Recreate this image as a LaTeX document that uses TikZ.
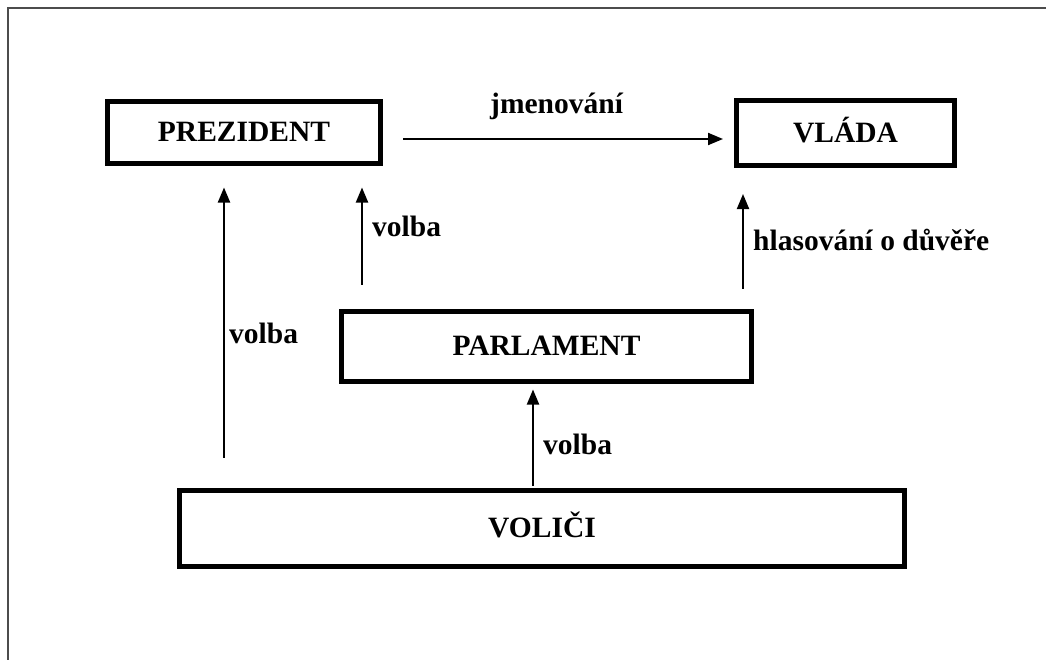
\documentclass[tikz,border=0pt]{standalone}
\usepackage{fontspec}
\setmainfont{Liberation Serif}
\usetikzlibrary{arrows.meta}
\tikzset{
  box/.style={draw=black, line width=5pt, fill=white, rectangle, inner sep=0pt,
    font=\fontsize{29.5}{32}\selectfont\bfseries, text height=19.5pt, text depth=0pt},
  lbl/.style={anchor=base west, inner sep=0pt, font=\fontsize{29.5}{32}\selectfont\bfseries},
  arr/.style={draw=black, line width=2pt, -{Triangle[length=15pt,width=12pt]}},
  frameline/.style={draw=black!70, line width=2pt}
}
\begin{document}
\begin{tikzpicture}[x=1pt,y=-1pt]
\useasboundingbox (0,0) rectangle (1046,659);
\draw[frameline] (8,660) -- (8,8) -- (1047,8);
\node[box, minimum width=273pt, minimum height=62pt] (prez) at (244,132) {PREZIDENT};
\node[box, minimum width=218pt, minimum height=65pt] (vlada) at (845.5,133) {VLÁDA};
\node[box, minimum width=410pt, minimum height=70pt] (parl) at (546.5,346) {PARLAMENT};
\node[box, minimum width=725pt, minimum height=76pt] (volici) at (542,528) {VOLIČI};
\coordinate (xl) at (224,0);
\coordinate (xm) at (362,0);
\coordinate (xr) at (743,0);
\coordinate (xb) at (533,0);
\draw[arr, shorten <=20pt, shorten >=11pt] (prez.east |- 0,139) -- (vlada.west |- 0,139);
\draw[arr, shorten <=30pt, shorten >=22pt] (volici.north -| xl) -- (prez.south -| xl);
\draw[arr, shorten <=24pt, shorten >=22pt] (parl.north -| xm) -- (prez.south -| xm);
\draw[arr, shorten <=20pt, shorten >=26pt] (parl.north -| xr) -- (vlada.south -| xr);
\draw[arr, shorten <=2pt, shorten >=6pt] (volici.north -| xb) -- (parl.south -| xb);
\node[lbl] (ljm) at (490,113) {jmenování};
\node[lbl] (lvm) at (372,236) {volba};
\node[lbl] (lhl) at (753,250) {hlasování o důvěře};
\node[lbl] (lvl) at (229,343) {volba};
\node[lbl] (lvb) at (543,454) {volba};
\end{tikzpicture}
\end{document}
